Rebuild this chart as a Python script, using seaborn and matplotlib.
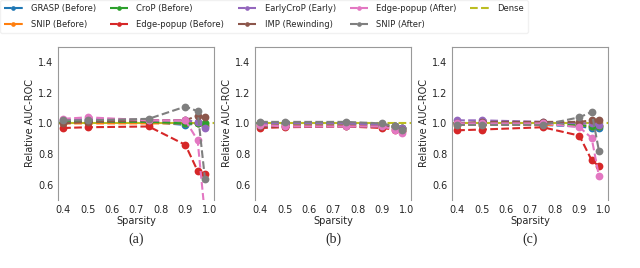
import numpy as np
import pandas as pd
import matplotlib
matplotlib.use("Agg")
import matplotlib.pyplot as plt
import seaborn as sns

sns.set_style("white")
plt.rcParams['font.family'] = ['DejaVu Sans']

sparsity = [0.4, 0.5, 0.75, 0.9, 0.95, 0.98]
methods = ["GRASP (Before)", "SNIP (Before)", "CroP (Before)", "Edge-popup (Before)",
           "EarlyCroP (Early)", "IMP (Rewinding)", "Edge-popup (After)", "SNIP (After)"]
colors = ["#1f77b4", "#ff7f0e", "#2ca02c", "#d62728",
          "#9467bd", "#8c564b", "#e377c2", "#7f7f7f"]
dense_color = "#bcbd22"
panel_labels = ["(a)", "(b)", "(c)"]

# panel (a)
auc_a = {
    "GRASP (Before)":      [1.01, 1.02, 1.01, 0.99, 1.00, 0.98],
    "SNIP (Before)":       [1.00, 1.00, 1.00, 1.00, 1.00, 0.99],
    "CroP (Before)":       [1.01, 1.01, 1.01, 1.00, 1.00, 1.00],
    "Edge-popup (Before)": [0.97, 0.975, 0.98, 0.86, 0.69, 0.67],
    "EarlyCroP (Early)":   [1.02, 1.03, 1.02, 1.02, 1.01, 0.97],
    "IMP (Rewinding)":     [1.00, 1.01, 1.02, 1.02, 1.05, 1.04],
    "Edge-popup (After)":  [1.03, 1.04, 1.02, 1.02, 0.89, 0.40],
    "SNIP (After)":        [1.02, 1.02, 1.03, 1.11, 1.08, 0.64],
}
# panel (b)
auc_b = {
    "GRASP (Before)":      [1.00, 1.00, 1.00, 0.99, 0.98, 0.97],
    "SNIP (Before)":       [0.99, 0.99, 0.99, 0.99, 0.98, 0.97],
    "CroP (Before)":       [1.00, 1.00, 1.00, 0.99, 0.98, 0.97],
    "Edge-popup (Before)": [0.97, 0.975, 0.98, 0.97, 0.96, 0.95],
    "EarlyCroP (Early)":   [1.00, 1.00, 1.00, 0.99, 0.98, 0.97],
    "IMP (Rewinding)":     [0.98, 0.98, 0.98, 0.98, 0.97, 0.96],
    "Edge-popup (After)":  [0.99, 0.98, 0.98, 0.98, 0.96, 0.94],
    "SNIP (After)":        [1.01, 1.01, 1.01, 1.00, 0.98, 0.96],
}
# panel (c)
auc_c = {
    "GRASP (Before)":      [1.00, 1.00, 0.99, 0.98, 0.97, 0.97],
    "SNIP (Before)":       [0.99, 0.99, 0.99, 0.99, 0.98, 0.98],
    "CroP (Before)":       [1.00, 1.00, 1.00, 0.99, 0.98, 0.98],
    "Edge-popup (Before)": [0.955, 0.96, 0.975, 0.92, 0.76, 0.72],
    "EarlyCroP (Early)":   [1.02, 1.02, 1.01, 1.00, 1.00, 0.99],
    "IMP (Rewinding)":     [1.00, 1.01, 1.01, 1.01, 1.02, 1.025],
    "Edge-popup (After)":  [1.00, 1.00, 1.00, 0.975, 0.905, 0.655],
    "SNIP (After)":        [0.99, 0.99, 0.99, 1.04, 1.075, 0.82],
}
panels = [auc_a, auc_b, auc_c]

fig, axes = plt.subplots(1, 3, figsize=(6.4, 2.68), dpi=100)
fig.subplots_adjust(left=0.091, right=0.95, top=0.825, bottom=0.254, wspace=0.265)

for ax, data, lab in zip(axes, panels, panel_labels):
    df = pd.DataFrame(data, index=sparsity).reset_index().melt(
        id_vars="index", var_name="method", value_name="auc")
    df = df.rename(columns={"index": "sparsity"})
    ax.axhline(1.0, color=dense_color, ls="--", lw=1.5, label="Dense", zorder=1)
    for m, c in zip(methods, colors):
        sub = df[df.method == m]
        sns.lineplot(data=sub, x="sparsity", y="auc", ax=ax, color=c, ls="--",
                     lw=1.5, marker="o", markersize=5.6, markeredgewidth=0,
                     label=m, legend=False)
    ax.set_xlim(0.38, 1.017)
    ax.set_ylim(0.5, 1.5)
    ax.set_xticks([0.4, 0.5, 0.6, 0.7, 0.8, 0.9, 1.0])
    ax.set_yticks([0.6, 0.8, 1.0, 1.2, 1.4])
    ax.tick_params(labelsize=7, length=2, color="#888888", pad=1.5)
    ax.set_xlabel("Sparsity", fontsize=7, labelpad=1)
    ax.set_ylabel("Relative AUC-ROC", fontsize=7, labelpad=2)
    for s in ["left", "right", "top"]:
        ax.spines[s].set_color("#999999")
        ax.spines[s].set_linewidth(0.8)
    ax.spines["bottom"].set_visible(False)
    ax.text(0.5, -0.26, lab, transform=ax.transAxes, ha="center", va="center",
            fontsize=10, family="Liberation Serif")

handles, labels = axes[0].get_legend_handles_labels()
order = [labels.index(m) for m in methods] + [labels.index("Dense")]
handles = [handles[i] for i in order]
labels = [labels[i] for i in order]
fig.legend(handles, labels, loc="upper left", bbox_to_anchor=(0.0, 1.0), ncol=5,
           fontsize=6, frameon=True, edgecolor="#eeeeee", handlelength=2.2,
           columnspacing=1.65, handletextpad=1.0, borderpad=0.45, labelspacing=0.8,
           borderaxespad=0.05, markerscale=0.6)

fig.savefig("out.png", dpi=100)
